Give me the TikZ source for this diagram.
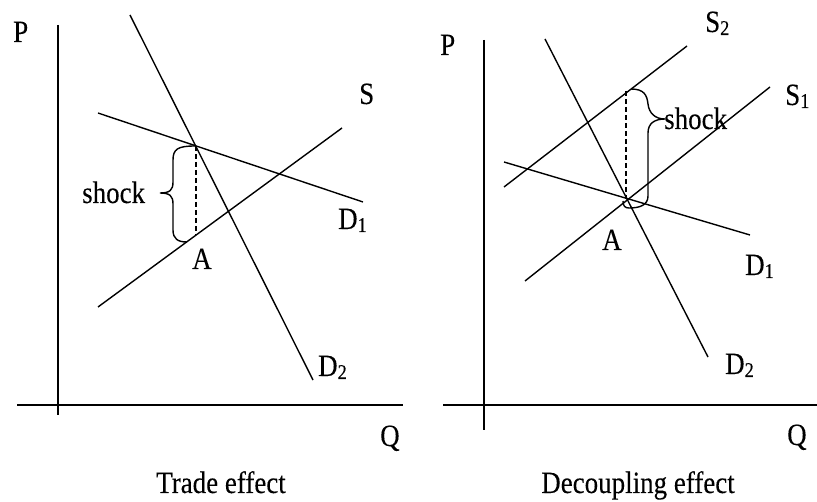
\documentclass[tikz,border=0pt]{standalone}
\usepackage{fontspec}
\setmainfont{Liberation Serif}[FakeStretch=0.87,FakeBold=0.12]
\newcommand{\sbs}[1]{\raisebox{-3pt}{\fontsize{21}{22}\selectfont #1}}
\begin{document}
\begin{tikzpicture}[x=1pt,y=-1pt,
  curve/.style={line width=1.4pt},
  axis/.style={line width=1.4pt},
  lbl/.style={inner sep=0pt,anchor=base west,font=\fontsize{31}{32}\selectfont},
  captxt/.style={inner sep=0pt,anchor=base,font=\fontsize{31}{32}\selectfont},
  dsh/.style={line width=1.3pt,dash pattern=on 5pt off 3pt},
  brc/.style={line width=1.4pt}]
\useasboundingbox (0,0) rectangle (817,502);
% ---------- left panel ----------
\coordinate (LyT) at (58,25);  \coordinate (LyB) at (58,415);
\coordinate (LxL) at (17,405); \coordinate (LxR) at (403,405);
\draw[axis] (LyT) -- (LyB);
\draw[axis] (LxL) -- (LxR);
\coordinate (LD2a) at (130,15); \coordinate (LD2b) at (313,380);
\coordinate (LD1a) at (98,113); \coordinate (LD1b) at (363,202);
\coordinate (LSa) at (98,307);  \coordinate (LSb) at (342,128);
\draw[curve] (LD2a) -- (LD2b);
\draw[curve] (LD1a) -- (LD1b);
\draw[curve] (LSa) -- (LSb);
\coordinate (Ltop) at (196,146); \coordinate (Lbot) at (196,235);
\draw[dsh] (Ltop) -- (Lbot);
\draw[brc] (195,146) .. controls (178,146) and (173,149) .. (173,160) -- (173,182)
  .. controls (173,190) and (170,193) .. (160,193)
  .. controls (170,193) and (173,196) .. (173,204) -- (173,230)
  .. controls (173,239) and (178,242) .. (187,242);
\node[lbl] (Lshock) at (82,203) {shock};
\node[lbl] (LP) at (13,42) {P};
\node[lbl] (LQ) at (380,446) {Q};
\node[lbl] (LS) at (359,104) {S};
\node[lbl] (LD1) at (338,229) {D\sbs{1}};
\node[lbl] (LD2) at (318,376) {D\sbs{2}};
\node[lbl] (LA) at (192,269) {A};
\node[captxt] (Lcap) at (221,493) {Trade effect};
% ---------- right panel ----------
\coordinate (RyT) at (484,40);  \coordinate (RyB) at (484,430);
\coordinate (RxL) at (443,405); \coordinate (RxR) at (817,405);
\draw[axis] (RyT) -- (RyB);
\draw[axis] (RxL) -- (RxR);
\coordinate (RD2a) at (545,39); \coordinate (RD2b) at (708,357);
\coordinate (RD1a) at (504,162); \coordinate (RD1b) at (750,235);
\coordinate (RS1a) at (525,281); \coordinate (RS1b) at (770,87);
\coordinate (RS2a) at (504,187); \coordinate (RS2b) at (687,46);
\draw[curve] (RD2a) -- (RD2b);
\draw[curve] (RD1a) -- (RD1b);
\draw[curve] (RS1a) -- (RS1b);
\draw[curve] (RS2a) -- (RS2b);
\coordinate (Rtop) at (626,91); \coordinate (Rbot) at (626,199);
\draw[dsh] (Rtop) -- (Rbot);
\draw[brc] (631,89) .. controls (644,89) and (647,95) .. (648,104)
  .. controls (649,113) and (655,119) .. (665,119)
  .. controls (655,119) and (648,123) .. (648,133) -- (648,196)
  .. controls (648,205) and (640,208) .. (629,208)
  .. controls (625,208) and (623,206) .. (623,201);
\node[lbl] (Rshock) at (664,129) {shock};
\node[lbl] (RP) at (440,55) {P};
\node[lbl] (RQ) at (787,445) {Q};
\node[lbl] (RS2) at (705,32) {S\sbs{2}};
\node[lbl] (RS1) at (785,105) {S\sbs{1}};
\node[lbl] (RD1) at (745,275) {D\sbs{1}};
\node[lbl] (RD2) at (725,374) {D\sbs{2}};
\node[lbl] (RA) at (602,250) {A};
\node[captxt] (Rcap) at (638,493) {Decoupling effect};
\end{tikzpicture}
\end{document}
